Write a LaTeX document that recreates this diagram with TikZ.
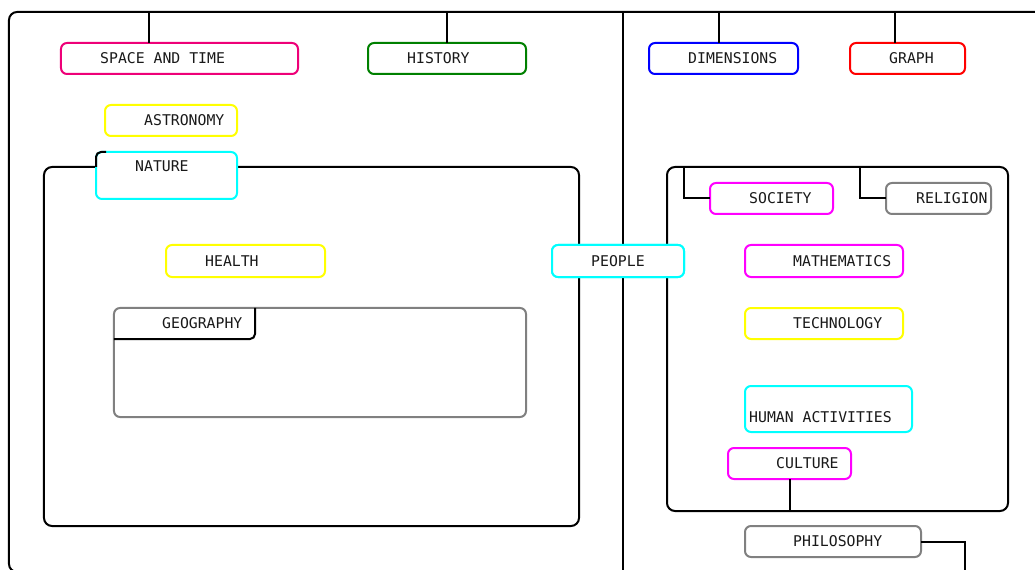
\documentclass[tikz,border=0pt]{standalone}
\usepackage{fontspec}
\newfontfamily\labfont{DejaVu Sans Mono}
\definecolor{cpink}{RGB}{238,0,120}
\definecolor{cgreen}{RGB}{0,128,0}
\definecolor{cblue}{RGB}{0,0,255}
\definecolor{cred}{RGB}{255,0,0}
\definecolor{cyel}{RGB}{255,255,0}
\definecolor{ccyan}{RGB}{0,255,255}
\definecolor{cmag}{RGB}{255,0,255}
\definecolor{cgray}{RGB}{128,128,128}
\tikzset{
  box/.style={draw, rounded corners=6bp, line width=2bp, inner sep=0pt, outer sep=0pt},
  frame/.style={draw=black, rounded corners=8bp, line width=2bp, inner sep=0pt, outer sep=0pt},
  lab/.style={anchor=west, inner sep=0pt, font=\labfont\fontsize{14.8bp}{17bp}\selectfont, text=black!90},
  conn/.style={draw=black, line width=2bp}
}
\begin{document}
\begin{tikzpicture}[x=1bp, y=-1bp]
\useasboundingbox (0,0) rectangle (1035,570);
\begin{scope}
\clip (0,0) rectangle (1035,570);
% outer frame
\node[frame, minimum width=1050bp, minimum height=560bp] (outer) at (534,292) {};
% inner frames
\node[frame, minimum width=535bp, minimum height=359bp] (lframe) at (311.5,346.5) {};
\node[frame, minimum width=341bp, minimum height=344bp] (rframe) at (837.5,339) {};
% geography container
\node[box, draw=cgray, minimum width=412bp, minimum height=109bp] (geo) at (320,362.5) {};
% top boxes
\node[box, draw=cpink, fill=white, minimum width=237bp, minimum height=31bp] (space) at (179.5,58.5) {};
\node[box, draw=cgreen, fill=white, minimum width=158bp, minimum height=31bp] (hist) at (447,58.5) {};
\node[box, draw=cblue, fill=white, minimum width=149bp, minimum height=31bp] (dims) at (723.5,58.5) {};
\node[box, draw=cred, fill=white, minimum width=115bp, minimum height=31bp] (graph) at (907.5,58.5) {};
% left side
\node[box, draw=cyel, fill=white, minimum width=132bp, minimum height=31bp] (astro) at (171,120.5) {};
\node[box, draw=ccyan, fill=white, minimum width=141bp, minimum height=47bp] (nature) at (166.5,175.5) {};
\node[box, draw=cyel, fill=white, minimum width=159bp, minimum height=32bp] (health) at (245.5,261) {};
% people
\node[box, draw=ccyan, fill=white, minimum width=132bp, minimum height=32bp] (people) at (618,261) {};
% right side
\node[box, draw=cmag, fill=white, minimum width=123bp, minimum height=31bp] (society) at (771.5,198.5) {};
\node[box, draw=cgray, fill=white, minimum width=105bp, minimum height=31bp] (religion) at (938.5,198.5) {};
\node[box, draw=cmag, fill=white, minimum width=158bp, minimum height=32bp] (math) at (824,261) {};
\node[box, draw=cyel, fill=white, minimum width=158bp, minimum height=31bp] (tech) at (824,323.5) {};
\node[box, draw=ccyan, fill=white, minimum width=167bp, minimum height=46bp] (human) at (828.5,409) {};
\node[box, draw=cmag, fill=white, minimum width=123bp, minimum height=31bp] (culture) at (789.5,463.5) {};
\node[box, draw=cgray, fill=white, minimum width=176bp, minimum height=31bp] (philo) at (833,541.5) {};

% geography tab (black bottom/right edge)
\draw[conn, rounded corners=5bp] (geo.north west) ++(141,0) coordinate (gtr) -- ++(0,31) -- ++(-141,0) coordinate (gbl);
% nature black top-left corner
\draw[conn, rounded corners=5bp] (nature.west |- lframe.north) -- (nature.north west) -- ++(10,0);

% connectors
\coordinate (cs) at ([xshift=88bp]space.north west);
\draw[conn] (cs) -- (cs |- outer.north);
\draw[conn] (hist.north) -- (hist.north |- outer.north);
\coordinate (cd) at ([xshift=70bp]dims.north west);
\draw[conn] (cd) -- (cd |- outer.north);
\coordinate (cg) at ([xshift=45bp]graph.north west);
\draw[conn] (cg) -- (cg |- outer.north);
\coordinate (cdiv) at ([xshift=614bp]outer.north west);
\draw[conn] (cdiv) -- (cdiv |- outer.south);
\coordinate (csoc) at ([xshift=17bp]rframe.north west);
\draw[conn] (csoc) |- (society.west);
\coordinate (crel) at ([xshift=193bp]rframe.north west);
\draw[conn] (crel) |- (religion.west);
\draw[conn] (culture.south) -- (culture.south |- rframe.south);
\coordinate (cph) at ([xshift=44bp]philo.east);
\draw[conn] (philo.east) -- (cph) -- (cph |- outer.south);

% redraw people on top of the lines
\node[box, draw=ccyan, fill=white, minimum width=132bp, minimum height=32bp] at (people) {};

% labels
\node[lab] (t-space) at ([xshift=39bp]space.west) {SPACE AND TIME};
\node[lab] (t-hist) at ([xshift=39bp]hist.west) {HISTORY};
\node[lab] (t-dims) at ([xshift=39bp]dims.west) {DIMENSIONS};
\node[lab] (t-graph) at ([xshift=39bp]graph.west) {GRAPH};
\node[lab] (t-astro) at ([xshift=39bp]astro.west) {ASTRONOMY};
\node[lab] (t-nature) at ([xshift=39bp,yshift=-14bp]nature.north west) {NATURE};
\node[lab] (t-health) at ([xshift=39bp]health.west) {HEALTH};
\node[lab] (t-geo) at ([xshift=48bp,yshift=-15.5bp]geo.north west) {GEOGRAPHY};
\node[lab] (t-people) at ([xshift=39bp]people.west) {PEOPLE};
\node[lab] (t-soc) at ([xshift=39bp]society.west) {SOCIETY};
\node[lab] (t-rel) at ([xshift=30bp]religion.west) {RELIGION};
\node[lab] (t-math) at ([xshift=48bp]math.west) {MATHEMATICS};
\node[lab] (t-tech) at ([xshift=48bp]tech.west) {TECHNOLOGY};
\node[lab] (t-human) at ([xshift=4bp,yshift=-8bp]human.west) {HUMAN ACTIVITIES};
\node[lab] (t-cult) at ([xshift=48bp]culture.west) {CULTURE};
\node[lab] (t-philo) at ([xshift=48bp]philo.west) {PHILOSOPHY};
\end{scope}
\end{tikzpicture}
\end{document}
